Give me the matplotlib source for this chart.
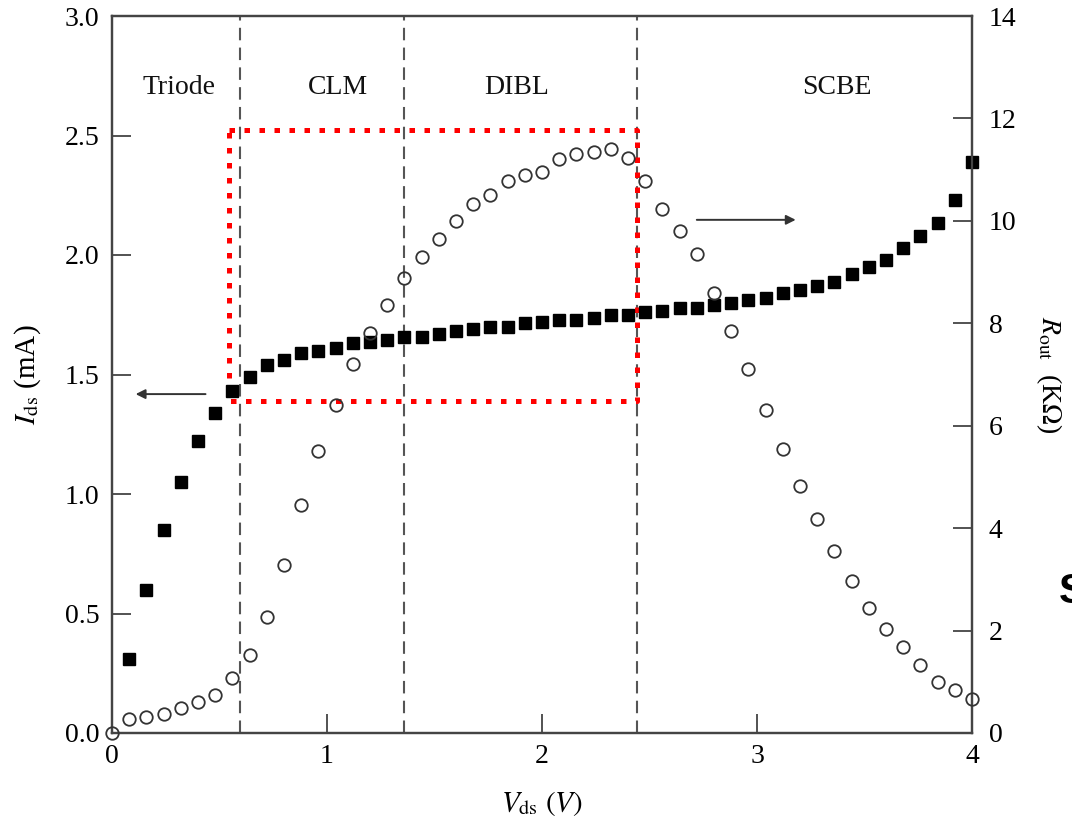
import numpy as np
import matplotlib
matplotlib.use("Agg")
import matplotlib.pyplot as plt

# Drain current Ids (mA), filled squares, left axis
vds_sq = [0.08, 0.16, 0.24, 0.32, 0.40, 0.48, 0.56, 0.64, 0.72, 0.80,
          0.88, 0.96, 1.04, 1.12, 1.20, 1.28, 1.36, 1.44, 1.52, 1.60,
          1.68, 1.76, 1.84, 1.92, 2.00, 2.08, 2.16, 2.24, 2.32, 2.40,
          2.48, 2.56, 2.64, 2.72, 2.80, 2.88, 2.96, 3.04, 3.12, 3.20,
          3.28, 3.36, 3.44, 3.52, 3.60, 3.68, 3.76, 3.84, 3.92, 4.00]
ids = [0.31, 0.60, 0.85, 1.05, 1.22, 1.34, 1.43, 1.49, 1.54, 1.56,
       1.59, 1.60, 1.61, 1.63, 1.635, 1.645, 1.655, 1.655, 1.67, 1.68,
       1.69, 1.70, 1.70, 1.715, 1.72, 1.73, 1.73, 1.735, 1.75, 1.75,
       1.76, 1.767, 1.777, 1.78, 1.79, 1.80, 1.81, 1.82, 1.84, 1.853,
       1.87, 1.888, 1.92, 1.95, 1.98, 2.03, 2.08, 2.135, 2.23, 2.39]

# Output resistance Rout (kOhm), open circles, right axis
vds_ci = [0.00] + vds_sq
rout = [0.00, 0.27, 0.31, 0.37, 0.48, 0.61, 0.74, 1.07, 1.52, 2.26, 3.28,
        4.45, 5.51, 6.41, 7.20, 7.81, 8.36, 8.88, 9.29, 9.65, 9.99,
        10.33, 10.51, 10.77, 10.90, 10.96, 11.20, 11.31, 11.35, 11.41, 11.22,
        10.77, 10.23, 9.81, 9.36, 8.59, 7.85, 7.11, 6.31, 5.54, 4.82,
        4.17, 3.56, 2.96, 2.45, 2.04, 1.67, 1.33, 1.00, 0.84, 0.66]

# region boundaries and labels
region_bounds = [0.595, 1.36, 2.443]
region_names = ["Triode", "CLM", "DIBL", "SCBE"]
region_label_x = [0.31, 1.05, 1.88, 3.37]

# highlighted box (x0, x1, y0, y1) in left-axis units
box_x = [0.543, 2.443]
box_y = [1.39, 2.523]

plt.rcParams["font.family"] = ["Liberation Serif", "DejaVu Serif"]
plt.rcParams["mathtext.fontset"] = "stix"

fig = plt.figure(figsize=(10.72, 8.19), dpi=100)
ax = fig.add_axes([112 / 1072, 1 - 733 / 819, 860 / 1072, 717 / 819])
ax2 = ax.twinx()

spine_c = "#444444"
for a in (ax, ax2):
    for s in a.spines.values():
        s.set_color(spine_c)
        s.set_linewidth(1.6)

ax.set_xlim(0, 4)
ax.set_ylim(0, 3.0)
ax2.set_ylim(0, 14)
ax.set_xticks([0, 1, 2, 3, 4])
ax.set_yticks(np.arange(0, 3.01, 0.5))
ax.yaxis.set_major_formatter(matplotlib.ticker.FormatStrFormatter("%.1f"))
ax2.set_yticks(np.arange(0, 15, 2))

ax.tick_params(axis="x", direction="in", length=14, width=1.3, color=spine_c,
               labelsize=20, pad=8, top=False)
ax.tick_params(axis="y", direction="in", length=14, width=1.3, color=spine_c,
               labelsize=20, pad=9, right=False)
ax2.tick_params(axis="y", direction="in", length=14, width=1.3, color=spine_c,
                labelsize=20, pad=12)

# region dividers
for xb in region_bounds:
    ax.axvline(xb, color="#555555", lw=1.5, ls=(0, (6, 3.5)), zorder=1)

for name, xl in zip(region_names, region_label_x):
    ax.text(xl, 2.7, name, ha="center", va="center", fontsize=20, color="#111111")

# red dotted box
ax.plot([box_x[0], box_x[1], box_x[1], box_x[0], box_x[0]],
        [box_y[1], box_y[1], box_y[0], box_y[0], box_y[1]],
        color="red", lw=3.6, ls=(0, (1.1, 1.9)), zorder=2)

# data
ax.plot(vds_sq, ids, ls="none", marker="s", ms=9, mfc="black", mec="black",
        zorder=3, clip_on=False)
ax2.plot(vds_ci, rout, ls="none", marker="o", ms=9, mfc="none", mec="#333333",
         mew=1.3, zorder=4, clip_on=False)

# arrows pointing to each axis
ax.annotate("", xy=(0.11, 1.418), xytext=(0.435, 1.418),
            arrowprops=dict(arrowstyle="-|>", color="#333333", lw=1.4,
                            mutation_scale=14, shrinkA=0, shrinkB=0))
ax2.annotate("", xy=(3.18, 10.02), xytext=(2.72, 10.02),
             arrowprops=dict(arrowstyle="-|>", color="#333333", lw=1.4,
                             mutation_scale=14, shrinkA=0, shrinkB=0))

ax.set_xlabel(r"$V_{\rm ds}\ (V)$", fontsize=21, labelpad=14)
ax.set_ylabel(r"$I_{\rm ds}$ (mA)", fontsize=21, labelpad=16)
ax2.set_ylabel(r"$R_{\rm out}$  (K$\Omega$)", fontsize=20, rotation=270, labelpad=34)

fig.text(1059 / 1072, 1 - 592 / 819, "S", fontsize=30, fontweight="bold",
         family="Liberation Sans", ha="left", va="center")

fig.savefig("out.png", dpi=100)
